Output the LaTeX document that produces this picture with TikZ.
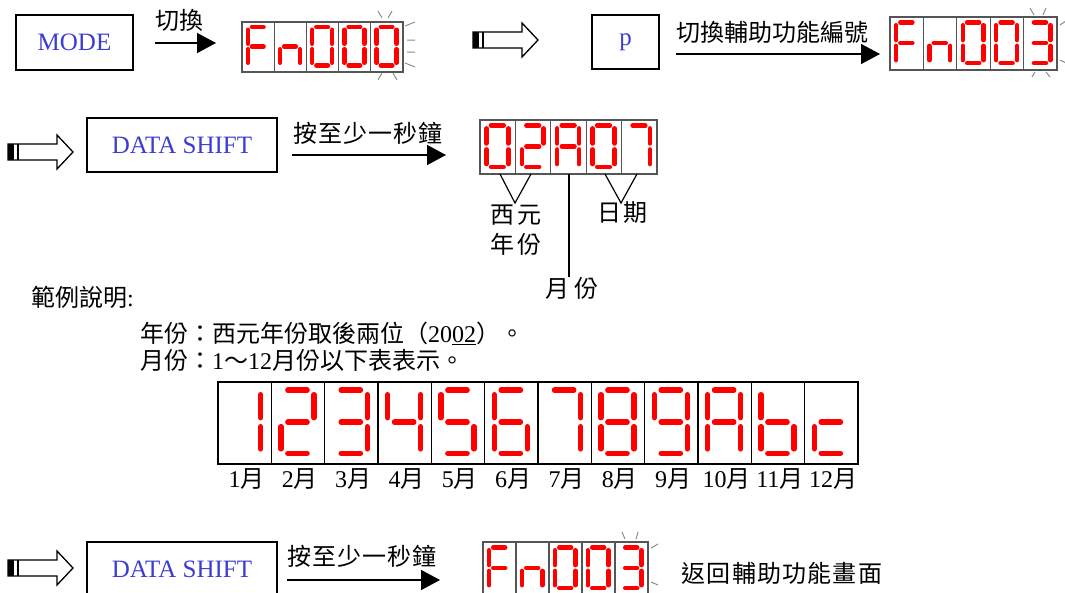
\documentclass[tikz,border=0pt]{standalone}
\usepackage{fontspec}
\setmainfont{Liberation Serif}
\newfontfamily\cjk{Noto Sans CJK TC}
\newfontfamily\cjkw{Noto Sans CJK TC}[LetterSpace=5]
\usetikzlibrary{arrows.meta,calc}

\definecolor{keyblue}{RGB}{60,60,210}
\definecolor{segred}{RGB}{255,0,0}
\definecolor{raygray}{RGB}{140,140,140}
\definecolor{framegray}{RGB}{85,85,85}

% seven-segment geometry in a unit cell (y downwards)
\def\svsga{(0.31,0.10)--(0.67,0.10)}
\def\svsgg{(0.31,0.49)--(0.67,0.49)}
\def\svsgd{(0.31,0.87)--(0.67,0.87)}
\def\svsgf{(0.18,0.155)--(0.18,0.435)}
\def\svsgb{(0.80,0.155)--(0.80,0.435)}
\def\svsge{(0.18,0.545)--(0.18,0.815)}
\def\svsgc{(0.80,0.545)--(0.80,0.815)}

\def\dgZero{a,b,c,d,e,f}
\def\dgOne{b,c}
\def\dgTwo{a,b,g,e,d}
\def\dgThree{a,b,g,c,d}
\def\dgFour{f,g,b,c}
\def\dgFive{a,f,g,c,d}
\def\dgSix{a,f,g,e,c,d}
\def\dgSeven{a,b,c}
\def\dgEight{a,b,c,d,e,f,g}
\def\dgNine{a,b,c,d,f,g}
\def\dgAA{a,b,c,e,f,g}
\def\dgBB{f,e,g,c,d}
\def\dgCC{g,e,d}
\def\dgFF{a,f,g,e}
\def\dgNN{e,g,c}

% #1 x, #2 y, #3 cell width, #4 cell height, #5 segment list, #6 line width
\newcommand\digitcell[6]{%
  \edef\svsgList{#5}%
  \begin{scope}[shift={(#1,#2)},xscale=#3,yscale=#4]
    \foreach \s in \svsgList {\draw[seg,line width=#6] \csname svsg\s\endcsname;}
  \end{scope}}

% #1 x, #2 y, #3 cell width, #4 cell height, #5 line width, #6 digits
\newcommand\digitrow[6]{%
  \foreach \dd [count=\i from 0] in {#6} {\digitcell{#1+\i*#3}{#2}{#3}{#4}{\dd}{#5}}}

% #1 name, #2 x, #3 y, #4 cell width, #5 height, #6 number of cells, #7 style
\newcommand\segframe[7]{%
  \pgfmathsetmacro\svsgW{#6*#4}%
  \pgfmathtruncatemacro\svsgN{#6-1}%
  \node[#7,inner sep=0pt,outer sep=0pt,minimum width=\svsgW pt,minimum height=#5pt,anchor=north west] (#1) at (#2,#3) {};
  \foreach \i in {1,...,\svsgN} {\draw[#7] (#2+\i*#4,#3) -- ++(0,#5);}}

% hollow arrow: #1 left x, #2 centre y
\newcommand\hollowarrow[2]{%
  \begin{scope}[shift={(#1,#2)}]
    \draw[hollow] (0,-8) -- (49,-8) -- (49,-17) -- (65,0) -- (49,17) -- (49,8) -- (0,8) -- cycle;
    \fill (0,-8) rectangle (6,8);
    \draw[hollow] (10,-8) -- (10,8);
  \end{scope}}

\begin{document}
\begin{tikzpicture}[x=1pt,y=-1pt,font=\fontsize{24}{29}\selectfont,
  keybox/.style={draw,line width=1.5pt,inner sep=0pt,text=keyblue,font=\fontsize{25}{30}\selectfont},
  lbl/.style={inner sep=0pt},
  cjklbl/.style={inner sep=0pt,font=\fontsize{24}{30}\selectfont\cjk},
  arr/.style={line width=1.5pt,-{Triangle[length=19pt,width=20pt]}},
  pointer/.style={line width=1.2pt},
  ray/.style={raygray,line width=1pt},
  seg/.style={segred,line cap=round},
  cellbox/.style={draw=framegray,line width=1.2pt},
  tablebox/.style={draw=black,line width=1.2pt},
  hollow/.style={line width=1.3pt,line join=miter}]
\useasboundingbox (0,0) rectangle (1065,592);
\clip (0,0) rectangle (1065,592);

% ---------- row 1 ----------
\node[keybox,minimum width=117pt,minimum height=55pt] (mode) at (74.5,42.5) {MODE};
\segframe{d1}{242}{22}{32.2}{50}{5}{cellbox}
\digitrow{242}{22}{32.2}{50}{4.5pt}{\dgFF,\dgNN,\dgZero,\dgZero,\dgZero}
\draw[arr] ($(mode.east)+(21,0.5)$) coordinate (a1s) -- ($(a1s -| d1.west)+(-26,0)$);
\node[cjklbl] (l1) at (179,20) {切換};
\draw[ray] (378,11)--(382,18) (392,11)--(388,18)
  (405,26)--(415,22) (407,40)--(415,40) (407,52)--(415,52) (405,63)--(415,67)
  (378,80)--(382,73) (397,80)--(393,73);

\hollowarrow{473}{40}

\node[keybox,minimum width=67pt,minimum height=54pt] (pkey) at (625.5,42) {p};
\segframe{d2}{890}{17}{33.4}{53}{5}{cellbox}
\digitrow{890}{17}{33.4}{53}{4.5pt}{\dgFF,\dgNN,\dgZero,\dgZero,\dgThree}
\draw[arr] ($(pkey.east)+(16,12)$) coordinate (a2s) -- ($(a2s -| d2.west)+(-10,0)$);
\node[cjklbl] (l2) at (772,32) {切換輔助功能編號};
\draw[ray] (1030,8)--(1034,15) (1046,8)--(1043,15)
  (1060,25)--(1066,21) (1060,60)--(1066,63)
  (1032,77)--(1035,72) (1050,77)--(1046,72);

% ---------- row 2 ----------
\hollowarrow{8}{152}
\node[keybox,minimum width=190pt,minimum height=54pt] (ds1) at (182,145) {DATA SHIFT};
\segframe{d3}{480}{120}{35.4}{54}{5}{cellbox}
\digitrow{480}{120}{35.4}{54}{4.5pt}{\dgZero,\dgTwo,\dgAA,\dgZero,\dgSeven}
\draw[arr] ($(ds1.east)+(14,10)$) coordinate (a3s) -- ($(a3s -| d3.west)+(-34,0)$);
\node[lbl] (l3) at (368,133) {\cjkw 按至少一秒鐘};

\node[cjklbl,align=center] (yr) at (516,230) {西\hspace{3pt}元\\年\hspace{3pt}份};
\node[cjklbl] (mo) at (572,288) {月\hspace{5pt}份};
\node[cjklbl] (dy) at (622,213) {日\hspace{2pt}期};
\draw[pointer] ($(d3.south west)+(20,0)$) -- ($(d3.south west)+(35,29)$) -- ($(d3.south west)+(51,0)$);
\draw[pointer] ($(d3.south west)+(89,0)$) coordinate (mtop) -- ($(mtop)+(0,103)$);
\draw[pointer] ($(d3.south west)+(125,0)$) -- ($(d3.south west)+(141,29)$) -- ($(d3.south west)+(157,0)$);

% ---------- explanation ----------
\node[lbl,anchor=west] (ex) at (31,297) {{\cjk 範例說明}:};
\node[lbl,anchor=west] (yline) at (140,333) {{\cjk 年份：西元年份取後兩位（}20\underline{02}{\cjk ）。}};
\node[lbl,anchor=west] (mline) at (140,360) {{\cjk 月份：}1{\cjk ～}12{\cjk 月份以下表表示。}};

\segframe{tab}{218}{382}{53.333}{82}{12}{tablebox}
\digitrow{218}{382}{53.333}{82}{5.5pt}{\dgOne,\dgTwo,\dgThree,\dgFour,\dgFive,\dgSix,\dgSeven,\dgEight,\dgNine,\dgAA,\dgBB,\dgCC}
\foreach \m [count=\i from 0] in {1,...,12}
  \node[lbl] (mon\m) at (218+53.333*\i+28.5,479) {\m{\cjk 月}};

% ---------- row 4 ----------
\hollowarrow{8}{568}
\node[keybox,minimum width=190pt,minimum height=54pt] (ds2) at (182,569) {DATA SHIFT};
\segframe{d4}{483}{542}{33}{53}{5}{cellbox}
\digitrow{483}{542}{33}{53}{4.5pt}{\dgFF,\dgNN,\dgZero,\dgZero,\dgThree}
\draw[arr] ($(ds2.east)+(9,11)$) coordinate (a4s) -- ($(a4s -| d4.west)+(-43,0)$);
\node[lbl] (l4) at (362,556) {\cjkw 按至少一秒鐘};
\draw[ray] (622,532)--(625,539) (638,532)--(636,539)
  (651,548)--(658,544) (651,582)--(658,585);
\node[lbl] (l5) at (782,573) {\cjkw 返回輔助功能畫面};
\end{tikzpicture}
\end{document}
